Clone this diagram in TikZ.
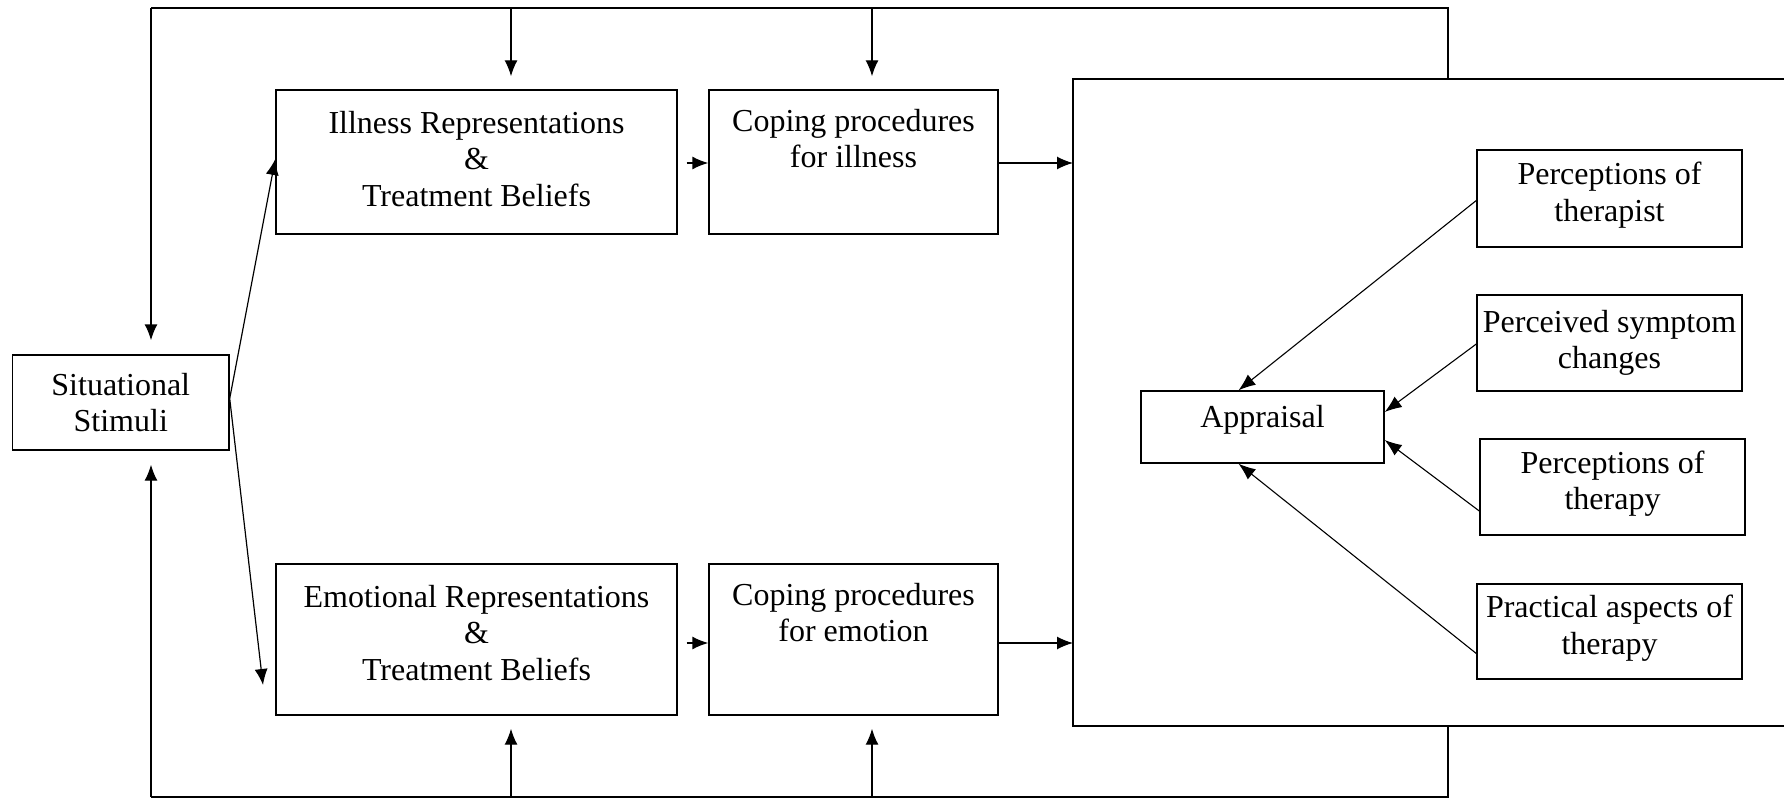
\documentclass[tikz,border=0pt]{standalone}
\usepackage{fontspec}
\setmainfont{Liberation Serif}
\usetikzlibrary{arrows.meta}
\begin{document}
\begin{tikzpicture}[x=1pt,y=-1pt,
  box/.style={draw, line width=1.4pt, inner sep=0pt, align=center,
    font=\fontsize{32}{36.5}\selectfont},
  conn/.style={line width=1.4pt, -{Latex[length=16pt,width=13pt]}},
  thin/.style={line width=1.1pt, -{Latex[length=17pt,width=13pt]}},
  plain/.style={line width=1.4pt}]
\useasboundingbox (0,0) rectangle (1784,799);
% boxes
\node[box, minimum width=216.5pt, minimum height=95pt] (stim) at (120.75,402.5) {Situational\\Stimuli};
\node[box, minimum width=401pt, minimum height=144pt, text depth=7pt] (ill) at (476.5,162) {Illness Representations\\\&\\Treatment Beliefs};
\node[box, minimum width=289pt, minimum height=144pt] (copi) at (853.5,162) {Coping procedures\\for illness\\\strut};
\node[box, minimum width=401pt, minimum height=151pt, text depth=14pt] (emo) at (476.5,639.5) {Emotional Representations\\\&\\Treatment Beliefs};
\node[box, minimum width=289pt, minimum height=151pt, text depth=18pt] (cope) at (853.5,639.5) {Coping procedures\\for emotion\\\strut};
\node[box, minimum width=243pt, minimum height=72pt, text height=15pt, text depth=14pt] (app) at (1262.5,427) {Appraisal};
\node[box, minimum width=265pt, minimum height=97pt, text depth=14pt] (p1) at (1609.5,198.5) {Perceptions of\\therapist};
\node[box, minimum width=265pt, minimum height=96pt] (p2) at (1609.5,343) {Perceived symptom\\changes};
\node[box, minimum width=265pt, minimum height=96pt, text depth=14pt] (p3) at (1612.5,487) {Perceptions of\\therapy};
\node[box, minimum width=265pt, minimum height=95pt, text depth=14pt] (p4) at (1609.5,631.5) {Practical aspects of\\therapy};
% big box (open at right edge)
\coordinate (bbtl) at (1073,79);
\coordinate (bbbl) at (1073,726);
\draw[plain] (1784,79) -- (bbtl) -- (bbbl) -- (1784,726);
% feedback loop
\coordinate (tl) at (151,8);
\coordinate (tr) at (1448,8);
\coordinate (bl) at (151,797);
\coordinate (br) at (1448,797);
\coordinate (t1) at (511,8);
\coordinate (t2) at (872,8);
\coordinate (b1) at (511,797);
\coordinate (b2) at (872,797);
\draw[plain] (tl) -- (tr) -- (1448,79);
\draw[plain] (bl) -- (br) -- (1448,726);
\draw[conn] (tl) -- ([yshift=14pt]stim.north -| tl);
\draw[conn] (bl) -- ([yshift=-14pt]stim.south -| bl);
\draw[conn] (t1) -- ([yshift=13pt]ill.north -| t1);
\draw[conn] (t2) -- ([yshift=13pt]copi.north -| t2);
\draw[conn] (b1) -- ([yshift=-13pt]emo.south -| b1);
\draw[conn] (b2) -- ([yshift=-13pt]cope.south -| b2);
% flow
\draw[conn] ([xshift=9pt,yshift=-1pt]ill.east) -- ([yshift=-1pt]copi.west);
\draw[conn] ([yshift=-1pt]copi.east) -- ([yshift=-1pt]copi.east -| bbtl);
\draw[conn] ([xshift=9pt,yshift=-3.5pt]emo.east) -- ([yshift=-3.5pt]cope.west);
\draw[conn] ([yshift=-3.5pt]cope.east) -- ([yshift=-3.5pt]cope.east -| bbtl);
\coordinate (s2e) at (263,685);
\draw[conn, line width=1.2pt] ([yshift=4pt]stim.east) -- ([yshift=3pt]ill.west);
\draw[conn, line width=1.2pt] ([yshift=4pt]stim.east) -- (s2e);
% to appraisal
\draw[thin] ([yshift=-2pt]p1.west) -- ([xshift=-24pt]app.north);
\draw[thin] ([yshift=-1pt]p2.west) -- ([yshift=15pt]app.east);
\draw[thin] ([yshift=-24pt]p3.west) -- ([yshift=-13pt]app.east);
\draw[thin] ([yshift=-22pt]p4.west) -- ([xshift=-24pt]app.south);
\end{tikzpicture}
\end{document}
